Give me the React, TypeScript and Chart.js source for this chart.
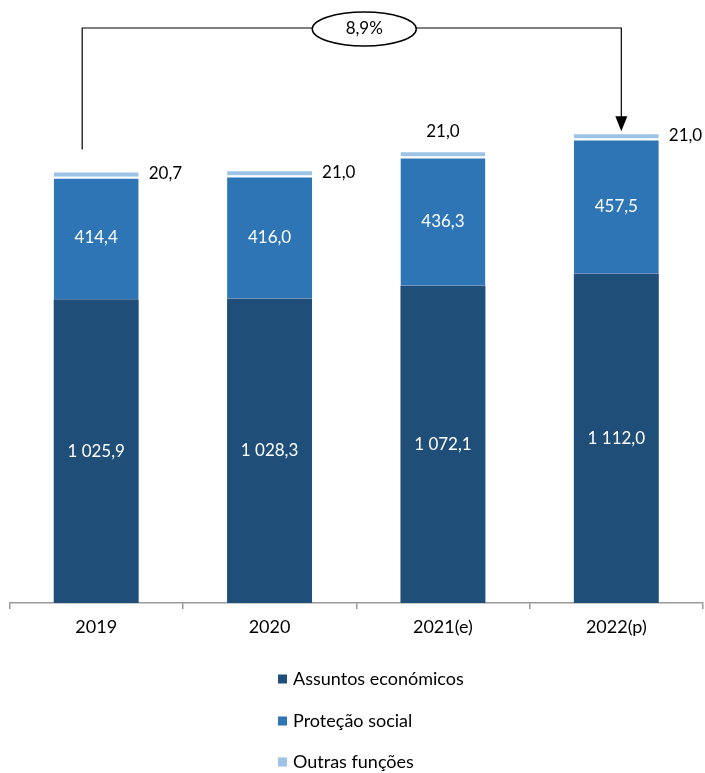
import React, { useEffect, useRef } from "react";
import { Chart, registerables } from "chart.js";

Chart.register(...registerables);

const categories = ["2019", "2020", "2021(e)", "2022(p)"];
const assuntosEconomicos = [1025.9, 1028.3, 1072.1, 1112.0];
const protecaoSocial = [414.4, 416.0, 436.3, 457.5];
const outrasFuncoes = [20.7, 21.0, 21.0, 21.0];
const seriesLabels = ["Assuntos económicos", "Proteção social", "Outras funções"];
const seriesColors = ["#1F4E79", "#2E75B6", "#9DC3E6"];
const growthLabel = "8,9%";

const FONT = "Lato";

function fmt(v: number): string {
  const s = v.toFixed(1);
  const [i, d] = s.split(".");
  const ii = i.replace(/\B(?=(\d{3})+(?!\d))/g, " ");
  return ii + "," + d;
}

const overlayPlugin = {
  id: "overlay",
  afterDatasetsDraw(chart: any) {
    const ctx = chart.ctx as CanvasRenderingContext2D;
    const xs = chart.scales.x;
    const ys = chart.scales.y;
    ctx.save();
    ctx.font = `17px ${FONT}`;
    // labels inside bars
    [0, 1].forEach((di) => {
      const meta = chart.getDatasetMeta(di);
      meta.data.forEach((el: any, i: number) => {
        const v = chart.data.datasets[di].data[i];
        const yc = (el.y + el.base) / 2;
        ctx.fillStyle = "#ffffff";
        ctx.textAlign = "center";
        ctx.textBaseline = "middle";
        ctx.fillText(fmt(v), el.x, yc);
      });
    });
    // outras labels
    const meta2 = chart.getDatasetMeta(2);
    meta2.data.forEach((el: any, i: number) => {
      const v = chart.data.datasets[2].data[i];
      ctx.fillStyle = "#000000";
      ctx.textBaseline = "middle";
      if (i === 2) {
        ctx.textAlign = "center";
        ctx.fillText(fmt(v), el.x, el.y - 19);
      } else {
        ctx.textAlign = "left";
        ctx.fillText(fmt(v), el.x + el.width / 2 + 10, (el.y + el.base) / 2);
      }
    });

    // growth annotation
    const totals = categories.map((_, i) => assuntosEconomicos[i] + protecaoSocial[i] + outrasFuncoes[i]);
    const x0 = xs.getPixelForValue(0) - 14;
    const x3 = xs.getPixelForValue(3) + 5;
    const yTop = 28;
    const yStart = ys.getPixelForValue(totals[0]) - 21;
    const yEnd = ys.getPixelForValue(totals[3]) - 1;
    const cx = (xs.getPixelForValue(1) + xs.getPixelForValue(2)) / 2 + 8;
    ctx.strokeStyle = "#000";
    ctx.lineWidth = 1.2;
    ctx.beginPath();
    ctx.moveTo(x0, yStart);
    ctx.lineTo(x0, yTop);
    ctx.lineTo(x3, yTop);
    ctx.lineTo(x3, yEnd - 14);
    ctx.stroke();
    ctx.fillStyle = "#000";
    ctx.beginPath();
    ctx.moveTo(x3 - 6, yEnd - 15);
    ctx.lineTo(x3 + 6, yEnd - 15);
    ctx.lineTo(x3, yEnd);
    ctx.closePath();
    ctx.fill();
    ctx.beginPath();
    ctx.ellipse(cx, yTop + 1, 52, 17, 0, 0, Math.PI * 2);
    ctx.fillStyle = "#fff";
    ctx.fill();
    ctx.lineWidth = 1.5;
    ctx.stroke();
    ctx.fillStyle = "#000";
    ctx.textAlign = "center";
    ctx.textBaseline = "middle";
    ctx.fillText(growthLabel, cx, yTop + 1);

    // legend
    ctx.font = `18px ${FONT}`;
    const lx = 278;
    const rows = [679, 721, 762];
    seriesLabels.forEach((lab, i) => {
      ctx.fillStyle = seriesColors[i];
      ctx.fillRect(lx, rows[i] - 4.5, 9, 9);
      ctx.fillStyle = "#000";
      ctx.textAlign = "left";
      ctx.textBaseline = "middle";
      ctx.fillText(lab, lx + 15, rows[i]);
    });
    ctx.restore();
  },
};

export default function App() {
  const ref = useRef<HTMLCanvasElement | null>(null);
  useEffect(() => {
    document.body.style.margin = "0";
    if (!ref.current) return;
    const border = { top: 2, bottom: 0, left: 0, right: 0 };
    const chart = new Chart(ref.current, {
      type: "bar",
      data: {
        labels: categories,
        datasets: [
          { label: seriesLabels[0], data: assuntosEconomicos, backgroundColor: seriesColors[0], borderColor: "#fff", borderWidth: 0, borderSkipped: false },
          { label: seriesLabels[1], data: protecaoSocial, backgroundColor: seriesColors[1], borderColor: "#fff", borderWidth: border, borderSkipped: false },
          { label: seriesLabels[2], data: outrasFuncoes, backgroundColor: seriesColors[2], borderColor: "#fff", borderWidth: border, borderSkipped: false },
        ],
      },
      options: {
        animation: false,
        responsive: false,
        maintainAspectRatio: false,
        layout: { padding: { left: 9.5, right: 2, top: 70.2, bottom: 135 } },
        datasets: { bar: { barPercentage: 0.49, categoryPercentage: 1 } },
        plugins: { legend: { display: false }, tooltip: { enabled: false } },
        scales: {
          x: {
            stacked: true,
            grid: { drawOnChartArea: false, drawTicks: true, tickLength: 6, color: "#999999", lineWidth: 1.5, offset: true },
            border: { display: true, color: "#999999", width: 1.5 },
            ticks: { color: "#000", font: { family: FONT, size: 18 }, padding: 7 },
            afterFit: (s: any) => { s.height = 35; },
          },
          y: {
            stacked: true,
            display: false,
            min: 0,
            max: 1800,
          },
        },
      },
      plugins: [overlayPlugin],
    });
    return () => chart.destroy();
  }, []);
  return (
    <div style={{ width: 705, height: 773 }}>
      <canvas ref={ref} width={705} height={773} style={{ display: "block" }} />
    </div>
  );
}
